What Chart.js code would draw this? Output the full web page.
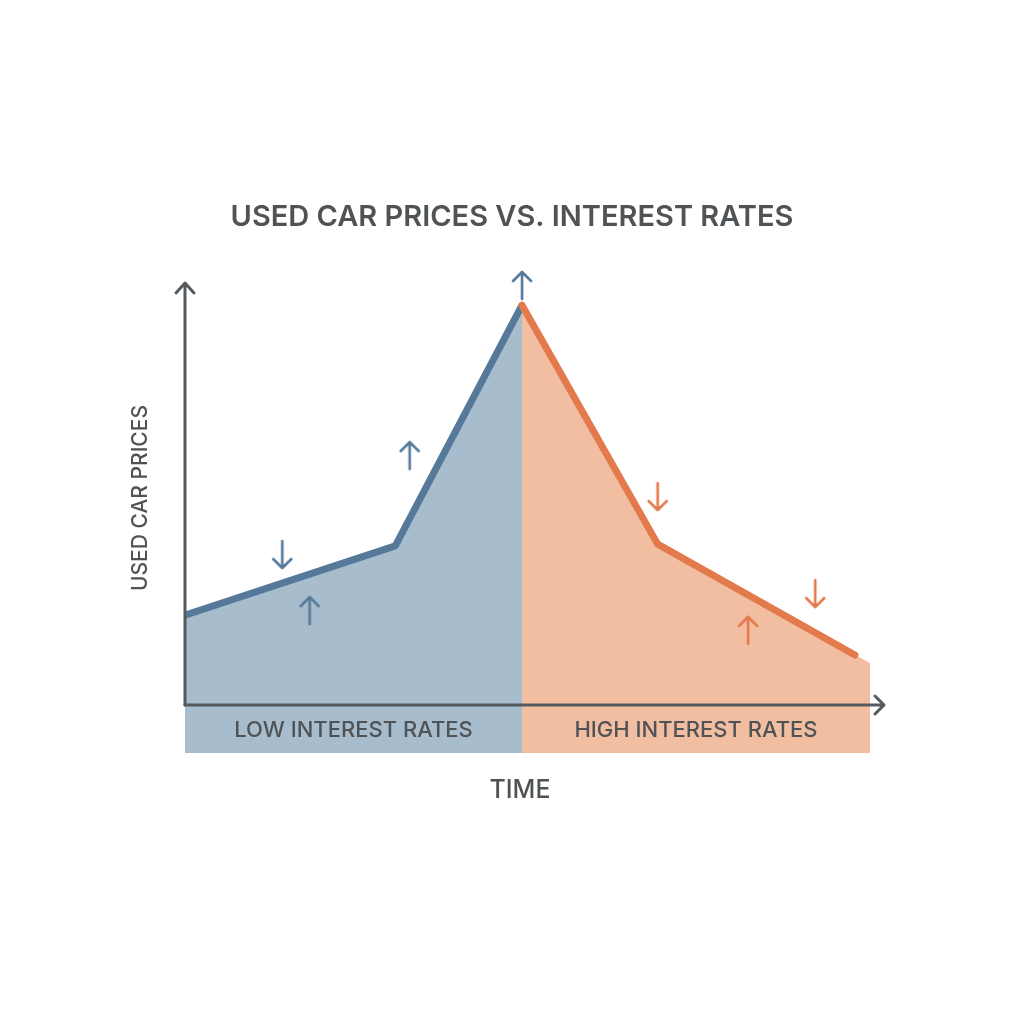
<!DOCTYPE html>
<html>
<head>
<meta charset="utf-8">
<script src="https://cdn.jsdelivr.net/npm/chart.js@4"></script>
<style>
  html, body { margin: 0; padding: 0; background: #ffffff; }
  #wrap { width: 1024px; height: 1024px; position: relative; }
</style>
</head>
<body>
<div id="wrap"><canvas id="c" width="1024" height="1024"></canvas></div>
<script>
// ---- Data (time on a 0..10 scale, price on a 0..100 index) ----
const chartTitle = "USED CAR PRICES VS. INTEREST RATES";
const xAxisLabel = "TIME";
const yAxisLabel = "USED CAR PRICES";
const regimeLabels = ["LOW INTEREST RATES", "HIGH INTEREST RATES"];
const regimeBounds = [0, 4.92, 10];

const lowRateTime   = [0, 3.07, 4.92];
const lowRatePrice  = [21.4, 37.9, 95.2];
const highRateTime  = [4.92, 6.9, 9.78];
const highRatePrice = [95.2, 38.3, 11.9];
const highFillTime  = [4.92, 6.9, 10];
const highFillPrice = [95.2, 38.3, 10.0];

// small direction markers
const blueMarkX   = [1.42, 1.82, 3.28, 4.92];
const blueMarkY   = [35.7, 22.6, 59.5, 100];
const blueMarkDir = ["down", "up", "up", "up"];
const orangeMarkX   = [6.9, 9.2, 8.22];
const orangeMarkY   = [49.5, 26.4, 17.9];
const orangeMarkDir = ["down", "down", "up"];

const BLUE_LINE = "#56799a";
const BLUE_FILL = "#a7bccc";
const ORANGE_LINE = "#e27a4c";
const ORANGE_FILL = "#f2bea2";
const AXIS = "#555a5e";
const TEXT = "#4f5356";

function pts(xs, ys) { return xs.map((x, i) => ({ x: x, y: ys[i] })); }

function arrowImg(dir, color) {
  const c = document.createElement("canvas");
  c.width = 24; c.height = 32;
  const g = c.getContext("2d");
  g.strokeStyle = color; g.lineWidth = 2.6; g.lineCap = "round"; g.lineJoin = "round";
  g.beginPath();
  if (dir === "up") {
    g.moveTo(12, 30); g.lineTo(12, 3);
    g.moveTo(3, 12); g.lineTo(12, 3); g.lineTo(21, 12);
  } else {
    g.moveTo(12, 2); g.lineTo(12, 29);
    g.moveTo(3, 20); g.lineTo(12, 29); g.lineTo(21, 20);
  }
  g.stroke();
  return c;
}

const overlay = {
  id: "overlay",
  beforeDatasetsDraw(chart) {
    const { ctx, scales: { x } } = chart;
    const top = chart.chartArea.bottom, h = 48;
    const cols = [BLUE_FILL, ORANGE_FILL];
    for (let i = 0; i < 2; i++) {
      const x0 = x.getPixelForValue(regimeBounds[i]);
      const x1 = x.getPixelForValue(regimeBounds[i + 1]);
      ctx.fillStyle = cols[i];
      ctx.fillRect(x0, top, x1 - x0, h);
      ctx.fillStyle = TEXT;
      ctx.font = "500 22px Inter, 'Open Sans', sans-serif";
      ctx.textAlign = "center"; ctx.textBaseline = "middle";
      ctx.fillText(regimeLabels[i], (x0 + x1) / 2, top + 25);
    }
  },
  afterDatasetsDraw(chart) {
    const { ctx, chartArea: a } = chart;
    ctx.save();
    ctx.strokeStyle = AXIS; ctx.lineWidth = 3; ctx.lineCap = "round"; ctx.lineJoin = "round";
    // y axis
    ctx.beginPath();
    ctx.moveTo(a.left, a.bottom); ctx.lineTo(a.left, a.top - 2);
    ctx.moveTo(a.left - 9, a.top + 8); ctx.lineTo(a.left, a.top - 2); ctx.lineTo(a.left + 9, a.top + 8);
    ctx.stroke();
    // x axis
    ctx.beginPath();
    ctx.moveTo(a.left, a.bottom); ctx.lineTo(a.right + 14, a.bottom);
    ctx.moveTo(a.right + 5, a.bottom - 9); ctx.lineTo(a.right + 14, a.bottom); ctx.lineTo(a.right + 5, a.bottom + 9);
    ctx.stroke();
    // texts
    ctx.fillStyle = TEXT;
    ctx.textAlign = "center"; ctx.textBaseline = "middle";
    ctx.font = "600 29px Inter, 'Open Sans', sans-serif";
    ctx.fillText(chartTitle, 512, 217);
    ctx.font = "500 25px Inter, 'Open Sans', sans-serif";
    ctx.fillText(xAxisLabel, 520, 790);
    ctx.save();
    ctx.translate(141, 498);
    ctx.rotate(-Math.PI / 2);
    ctx.font = "500 21px Inter, 'Open Sans', sans-serif";
    ctx.fillText(yAxisLabel, 0, 0);
    ctx.restore();
    ctx.restore();
  }
};

new Chart(document.getElementById("c"), {
  type: "scatter",
  data: {
    datasets: [
      { data: pts(lowRateTime, lowRatePrice), showLine: true, fill: "origin",
        backgroundColor: BLUE_FILL, borderColor: BLUE_LINE, borderWidth: 7,
        pointRadius: 0, borderJoinStyle: "round", order: 3 },
      { data: pts(highFillTime, highFillPrice), showLine: true, fill: "origin",
        backgroundColor: ORANGE_FILL, borderColor: "rgba(0,0,0,0)", borderWidth: 0,
        pointRadius: 0, order: 4 },
      { data: pts(highRateTime, highRatePrice), showLine: true, fill: false,
        borderColor: ORANGE_LINE, borderWidth: 7, pointRadius: 0,
        borderCapStyle: "round", borderJoinStyle: "round", order: 2 },
      { data: pts(blueMarkX, blueMarkY), showLine: false, clip: false,
        pointStyle: blueMarkDir.map(d => arrowImg(d, BLUE_LINE)), order: 1 },
      { data: pts(orangeMarkX, orangeMarkY), showLine: false, clip: false,
        pointStyle: orangeMarkDir.map(d => arrowImg(d, ORANGE_LINE)), order: 1 }
    ]
  },
  options: {
    responsive: false,
    animation: false,
    layout: { padding: { left: 185, right: 154, top: 285, bottom: 319 } },
    scales: {
      x: { type: "linear", min: 0, max: 10, display: false },
      y: { type: "linear", min: 0, max: 100, display: false }
    },
    plugins: { legend: { display: false }, tooltip: { enabled: false }, title: { display: false } }
  },
  plugins: [overlay]
});
</script>
</body>
</html>
